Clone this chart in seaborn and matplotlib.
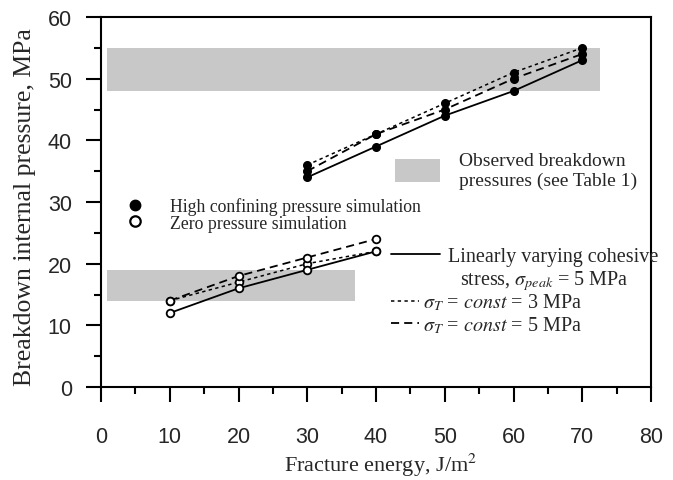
import numpy as np
import pandas as pd
import matplotlib
matplotlib.use("Agg")
import matplotlib.pyplot as plt
from matplotlib.lines import Line2D
from matplotlib.patches import Patch
from matplotlib.ticker import MultipleLocator
import seaborn as sns

# ---------------- data ----------------
energy_high = [30, 40, 50, 60, 70]
high_linear = [34, 39, 44, 48, 53]
high_const3 = [36, 41, 46, 51, 55]
high_const5 = [35, 41, 45, 50, 54]

energy_zero = [10, 20, 30, 40]
zero_linear = [12, 16, 19, 22]
zero_const3 = [14, 17, 20, 22]
zero_const5 = [14, 18, 21, 24]

obs_energy_start = [0.9, 0.9]
obs_energy_end = [37.0, 72.6]
obs_pressure_low = [14, 48]
obs_pressure_high = [19, 55]

x_ticks = [0, 10, 20, 30, 40, 50, 60, 70, 80]
y_ticks = [0, 10, 20, 30, 40, 50, 60]

# ---------------- style ----------------
sns.set_style("ticks")
plt.rcParams["font.family"] = ["Liberation Serif", "DejaVu Serif"]
plt.rcParams["mathtext.fontset"] = "stix"
plt.rcParams["axes.linewidth"] = 1.5

GRAY = "#c8c8c8"
LS = {
    "linear": "-",
    "const3": (0, (2.2, 2.2)),
    "const5": (0, (4.5, 2.8)),
}
LW = {"linear": 1.3, "const3": 1.1, "const5": 1.3}

fig = plt.figure(figsize=(6.73, 4.81), dpi=100)
W, H = 673, 481
ax = fig.add_axes([101 / W, 1 - 388 / H, 550 / W, 370 / H])

# observed bands
for x0, x1, y0, y1 in zip(obs_energy_start, obs_energy_end, obs_pressure_low, obs_pressure_high):
    ax.fill_between([x0, x1], [y0, y0], [y1, y1], color=GRAY, linewidth=0, zorder=1)

# simulation lines
records = []
for model, ys in (("linear", high_linear), ("const3", high_const3), ("const5", high_const5)):
    for x, y in zip(energy_high, ys):
        records.append(dict(energy=x, pressure=y, model=model, cond="high"))
for model, ys in (("linear", zero_linear), ("const3", zero_const3), ("const5", zero_const5)):
    for x, y in zip(energy_zero, ys):
        records.append(dict(energy=x, pressure=y, model=model, cond="zero"))
df = pd.DataFrame(records)

for (cond, model), sub in df.groupby(["cond", "model"]):
    filled = cond == "high"
    sns.lineplot(
        data=sub, x="energy", y="pressure", ax=ax, errorbar=None, legend=False,
        color="black", linestyle=LS[model], linewidth=LW[model],
        marker="o", markersize=5.2 if filled else 5.5,
        markerfacecolor="black" if filled else "white",
        markeredgecolor="black", markeredgewidth=1.3, zorder=3,
    )

# axes
ax.set_xlim(0, 80)
ax.set_ylim(0, 60)
ax.set_xticks(x_ticks)
ax.set_yticks(y_ticks)
ax.xaxis.set_minor_locator(MultipleLocator(5))
ax.yaxis.set_minor_locator(MultipleLocator(5))
ax.tick_params(which="major", direction="out", length=11, width=1.5, color="black",
               labelsize=15.5, labelfontfamily="Liberation Sans")
ax.tick_params(axis="x", which="major", pad=17)
ax.tick_params(axis="y", which="major", pad=10)
ax.tick_params(which="minor", direction="out", length=5, width=1.5, color="black")
for s in ax.spines.values():
    s.set_visible(True)
    s.set_color("black")
    s.set_linewidth(1.5)

ax.set_xlabel(r"Fracture energy, J/m$^2$", fontsize=16)
ax.set_ylabel("Breakdown internal pressure, MPa", fontsize=18.5)
ax.xaxis.set_label_coords(0.509, -0.172)
ax.yaxis.set_label_coords(-0.118, 0.49)


def fig_xy(px, py):
    return (px / W, 1 - py / H)


# legend 1: observed band
leg1 = ax.legend(
    handles=[Patch(facecolor=GRAY, edgecolor="none")],
    labels=["Observed breakdown\npressures (see Table 1)"],
    loc="upper left", bbox_to_anchor=fig_xy(395, 153), bbox_transform=fig.transFigure,
    frameon=False, fontsize=14, borderpad=0, borderaxespad=0,
    handlelength=45 / 19.4, handleheight=1.4, handletextpad=19 / 19.4,
)
ax.add_artist(leg1)

# legend 2: markers
fs2 = 12.8
leg2 = ax.legend(
    handles=[
        Line2D([], [], linestyle="", marker="o", markersize=7.5, markerfacecolor="black",
               markeredgecolor="black"),
        Line2D([], [], linestyle="", marker="o", markersize=7.5, markerfacecolor="white",
               markeredgecolor="black", markeredgewidth=1.6),
    ],
    labels=["High confining pressure simulation", "Zero pressure simulation"],
    loc="upper left", bbox_to_anchor=fig_xy(126, 198), bbox_transform=fig.transFigure,
    frameon=False, fontsize=fs2, borderpad=0, borderaxespad=0,
    handlelength=1.0, handletextpad=1.5, labelspacing=-0.02,
)
ax.add_artist(leg2)

# legend 3: solid line
fs3 = 14.5
leg3 = ax.legend(
    handles=[Line2D([], [], color="black", linestyle=LS["linear"], linewidth=LW["linear"])],
    labels=["Linearly varying cohesive"],
    loc="upper left", bbox_to_anchor=fig_xy(391, 248), bbox_transform=fig.transFigure,
    frameon=False, fontsize=fs3, borderpad=0, borderaxespad=0,
    handlelength=49 / 20.1, handletextpad=8 / 20.1,
)
ax.add_artist(leg3)
fig.text(460 / W, 1 - 281 / H, r"stress, $\sigma_{peak}$ = 5 MPa", fontsize=fs3,
         ha="left", va="center")

# legend 4: dotted/dashed
leg4 = ax.legend(
    handles=[
        Line2D([], [], color="black", linestyle=LS["const3"], linewidth=LW["const3"]),
        Line2D([], [], color="black", linestyle=LS["const5"], linewidth=LW["const5"]),
    ],
    labels=[r"$\sigma_T$ = $const$ = 3 MPa", r"$\sigma_T$ = $const$ = 5 MPa"],
    loc="upper left", bbox_to_anchor=fig_xy(391, 293), bbox_transform=fig.transFigure,
    frameon=False, fontsize=fs3, borderpad=0, borderaxespad=0,
    handlelength=28 / 20.1, handletextpad=4 / 20.1, labelspacing=0.1,
)

fig.savefig("out.png", dpi=100)
